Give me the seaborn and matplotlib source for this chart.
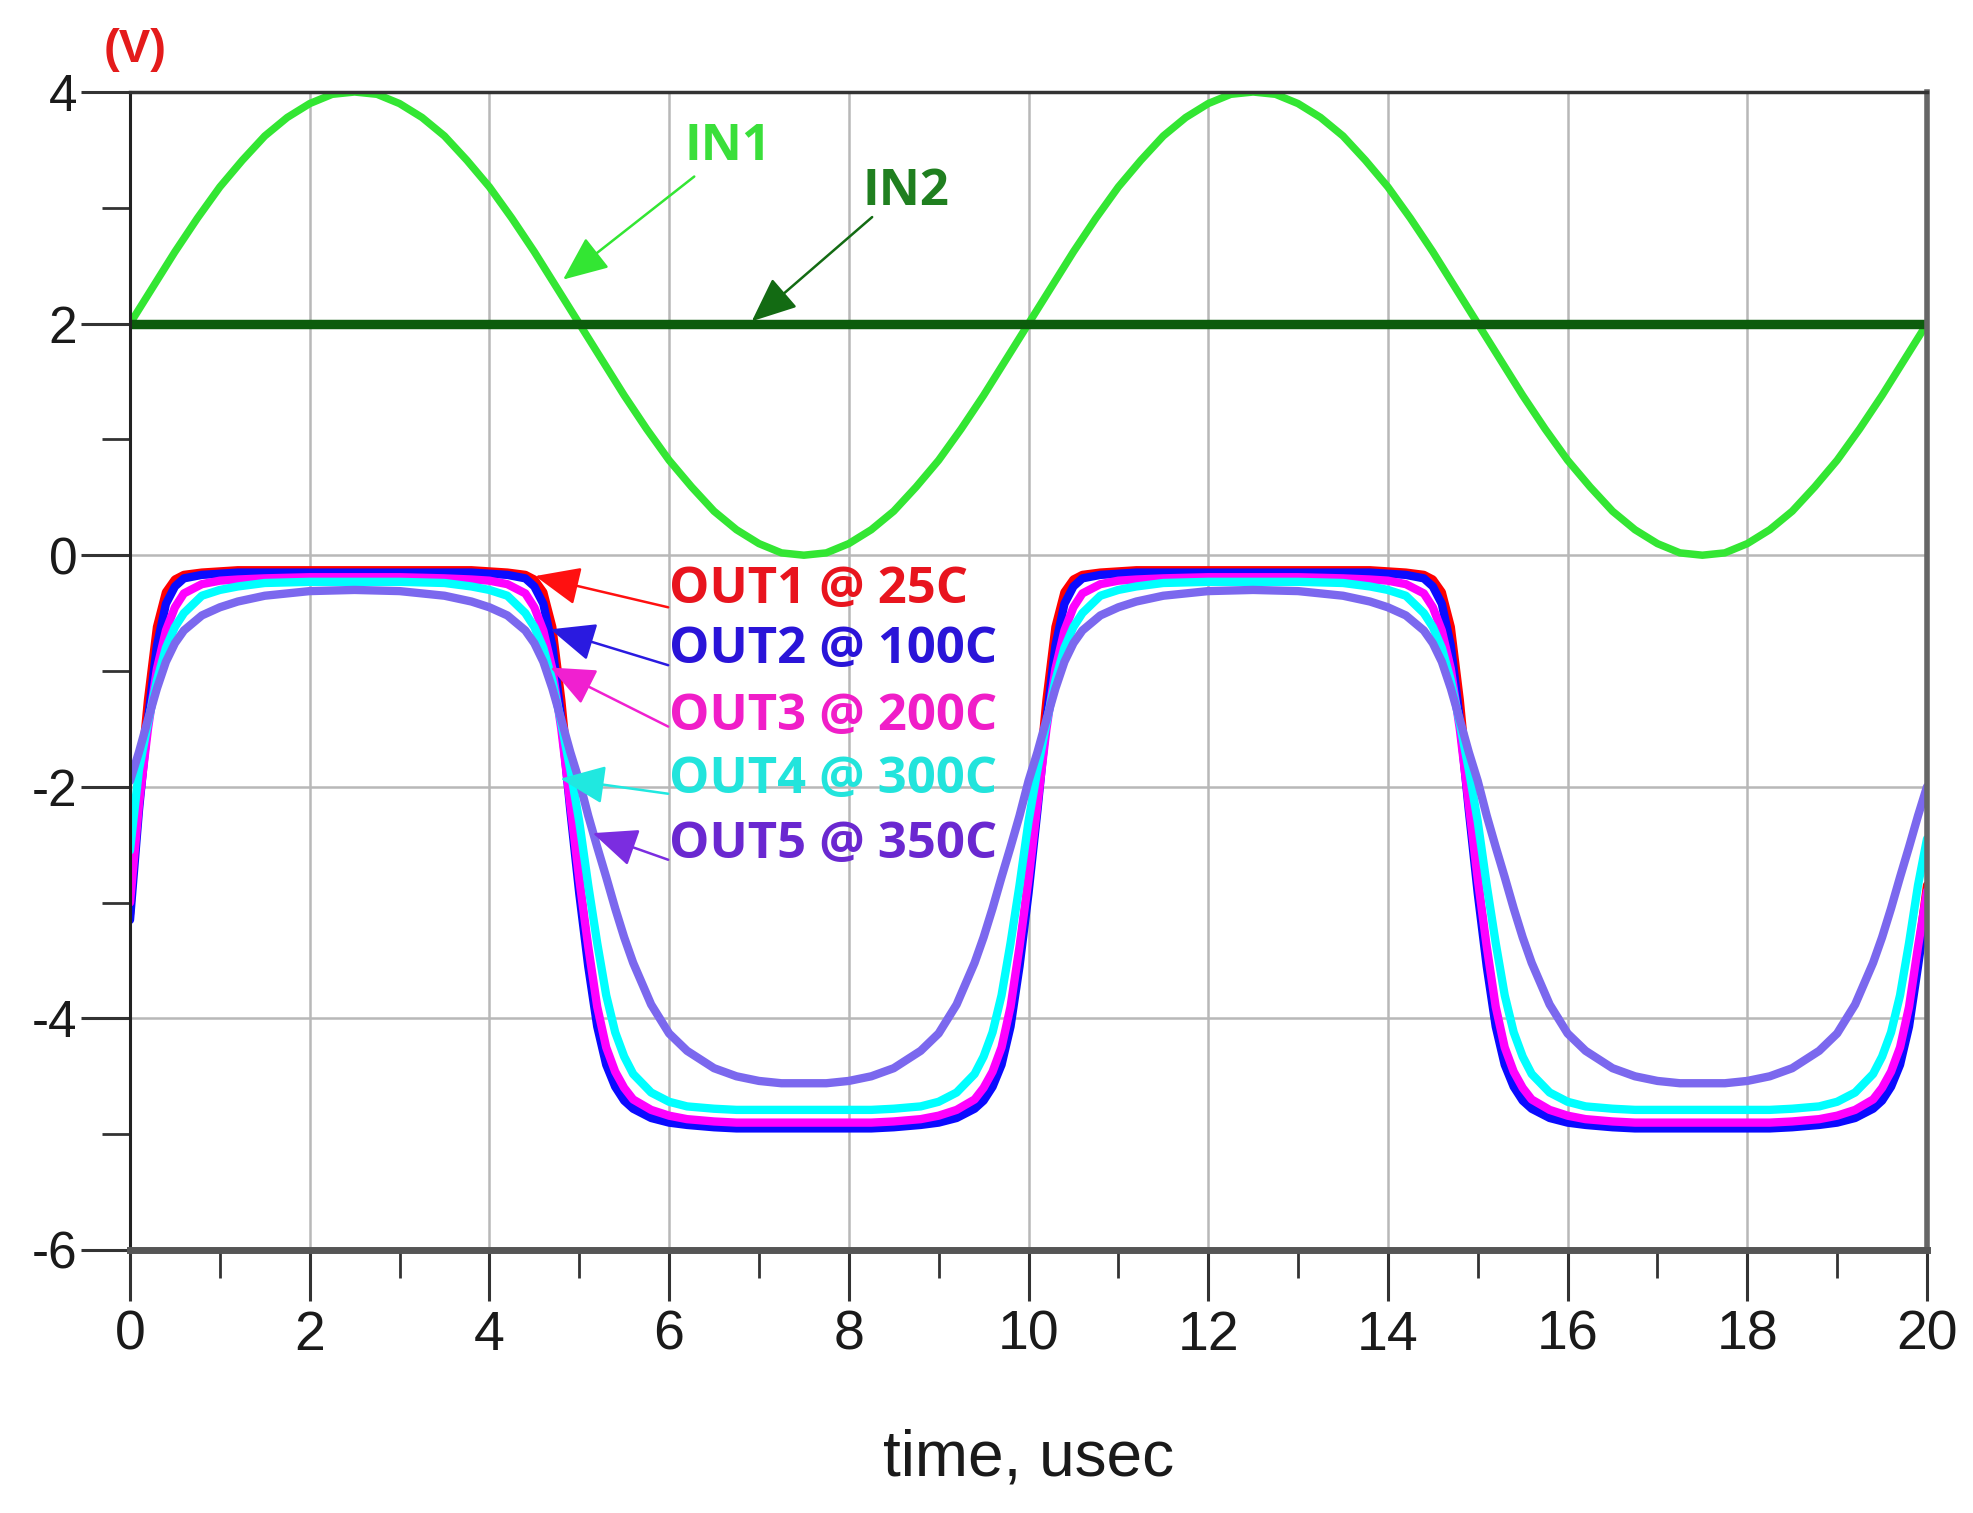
import matplotlib
matplotlib.use("Agg")
import numpy as np
import pandas as pd
import seaborn as sns
import matplotlib.pyplot as plt
from matplotlib.ticker import MultipleLocator

# ---------------- data ----------------
t_in = np.linspace(0, 20, 81)
in1 = [2.00, 2.31, 2.62, 2.91, 3.18, 3.41, 3.62, 3.78, 3.90, 3.98, 4.00, 3.98, 3.90, 3.78, 3.62, 3.41,
       3.18, 2.91, 2.62, 2.31, 2.00, 1.69, 1.38, 1.09, 0.82, 0.59, 0.38, 0.22, 0.10, 0.02, 0.00, 0.02,
       0.10, 0.22, 0.38, 0.59, 0.82, 1.09, 1.38, 1.69,
       2.00, 2.31, 2.62, 2.91, 3.18, 3.41, 3.62, 3.78, 3.90, 3.98, 4.00, 3.98, 3.90, 3.78, 3.62, 3.41,
       3.18, 2.91, 2.62, 2.31, 2.00, 1.69, 1.38, 1.09, 0.82, 0.59, 0.38, 0.22, 0.10, 0.02, 0.00, 0.02,
       0.10, 0.22, 0.38, 0.59, 0.82, 1.09, 1.38, 1.69, 2.00]
t_in2 = [0.0, 20.0]
in2 = [2.0, 2.0]

t_out = [0.0, 0.1, 0.2, 0.3, 0.4, 0.5, 0.6, 0.8, 1.0, 1.2, 1.5, 2.0, 2.5, 3.0, 3.5, 3.8, 4.0, 4.2,
         4.4, 4.5, 4.6, 4.7, 4.8, 4.9, 5.0, 5.1, 5.2, 5.3, 5.4, 5.5, 5.6, 5.8, 6.0, 6.2, 6.5, 6.75,
         7.0, 7.25, 7.5, 7.75, 8.0, 8.25, 8.5, 8.8, 9.0, 9.2, 9.4, 9.5, 9.6, 9.7, 9.8, 9.9,
         10.0, 10.1, 10.2, 10.3, 10.4, 10.5, 10.6, 10.8, 11.0, 11.2, 11.5, 12.0, 12.5, 13.0, 13.5, 13.8,
         14.0, 14.2, 14.4, 14.5, 14.6, 14.7, 14.8, 14.9, 15.0, 15.1, 15.2, 15.3, 15.4, 15.5, 15.6, 15.8,
         16.0, 16.2, 16.5, 16.75, 17.0, 17.25, 17.5, 17.75, 18.0, 18.25, 18.5, 18.8, 19.0, 19.2, 19.4,
         19.5, 19.6, 19.7, 19.8, 19.9, 20.0]

out1 = [-3.10, -2.05, -1.25, -0.62, -0.32, -0.21, -0.17, -0.15, -0.14, -0.13, -0.13, -0.13, -0.13, -0.13,
        -0.13, -0.13, -0.14, -0.15, -0.17, -0.21, -0.32, -0.62, -1.25, -2.05, -2.80, -3.45, -4.00, -4.35,
        -4.55, -4.68, -4.75, -4.83, -4.88, -4.90, -4.92, -4.93, -4.93, -4.93, -4.93, -4.93, -4.93, -4.93,
        -4.92, -4.90, -4.88, -4.83, -4.75, -4.68, -4.55, -4.35, -4.00, -3.45,
        -2.80, -2.05, -1.25, -0.62, -0.32, -0.21, -0.17, -0.15, -0.14, -0.13, -0.13, -0.13, -0.13, -0.13,
        -0.13, -0.13, -0.14, -0.15, -0.17, -0.21, -0.32, -0.62, -1.25, -2.05, -2.80, -3.45, -4.00, -4.35,
        -4.55, -4.68, -4.75, -4.83, -4.88, -4.90, -4.92, -4.93, -4.93, -4.93, -4.93, -4.93, -4.93, -4.93,
        -4.92, -4.90, -4.88, -4.83, -4.75, -4.68, -4.55, -4.35, -4.00, -3.45, -2.85]
out2 = [-3.15, -2.20, -1.42, -0.78, -0.42, -0.27, -0.20, -0.17, -0.16, -0.15, -0.15, -0.15, -0.15, -0.15,
        -0.15, -0.15, -0.16, -0.17, -0.20, -0.27, -0.42, -0.78, -1.42, -2.20, -2.92, -3.55, -4.07, -4.40,
        -4.59, -4.71, -4.78, -4.86, -4.90, -4.92, -4.94, -4.95, -4.95, -4.95, -4.95, -4.95, -4.95, -4.95,
        -4.94, -4.92, -4.90, -4.86, -4.78, -4.71, -4.59, -4.40, -4.07, -3.55,
        -2.92, -2.20, -1.42, -0.78, -0.42, -0.27, -0.20, -0.17, -0.16, -0.15, -0.15, -0.15, -0.15, -0.15,
        -0.15, -0.15, -0.16, -0.17, -0.20, -0.27, -0.42, -0.78, -1.42, -2.20, -2.92, -3.55, -4.07, -4.40,
        -4.59, -4.71, -4.78, -4.86, -4.90, -4.92, -4.94, -4.95, -4.95, -4.95, -4.95, -4.95, -4.95, -4.95,
        -4.94, -4.92, -4.90, -4.86, -4.78, -4.71, -4.59, -4.40, -4.07, -3.55, -3.00]
out3 = [-3.00, -2.15, -1.50, -0.98, -0.65, -0.45, -0.33, -0.25, -0.22, -0.21, -0.20, -0.19, -0.19, -0.19,
        -0.20, -0.21, -0.22, -0.25, -0.33, -0.45, -0.65, -0.98, -1.50, -2.15, -2.80, -3.38, -3.90, -4.25,
        -4.46, -4.60, -4.70, -4.79, -4.84, -4.87, -4.89, -4.90, -4.90, -4.90, -4.90, -4.90, -4.90, -4.90,
        -4.89, -4.87, -4.84, -4.79, -4.70, -4.60, -4.46, -4.25, -3.90, -3.38,
        -2.80, -2.15, -1.50, -0.98, -0.65, -0.45, -0.33, -0.25, -0.22, -0.21, -0.20, -0.19, -0.19, -0.19,
        -0.20, -0.21, -0.22, -0.25, -0.33, -0.45, -0.65, -0.98, -1.50, -2.15, -2.80, -3.38, -3.90, -4.25,
        -4.46, -4.60, -4.70, -4.79, -4.84, -4.87, -4.89, -4.90, -4.90, -4.90, -4.90, -4.90, -4.90, -4.90,
        -4.89, -4.87, -4.84, -4.79, -4.70, -4.60, -4.46, -4.25, -3.90, -3.38, -2.90]
out4 = [-2.55, -1.85, -1.45, -1.08, -0.80, -0.62, -0.50, -0.35, -0.30, -0.27, -0.24, -0.23, -0.23, -0.23,
        -0.24, -0.27, -0.30, -0.35, -0.50, -0.62, -0.80, -1.08, -1.45, -1.85, -2.30, -2.85, -3.35, -3.80,
        -4.12, -4.33, -4.48, -4.64, -4.72, -4.76, -4.78, -4.79, -4.79, -4.79, -4.79, -4.79, -4.79, -4.79,
        -4.78, -4.76, -4.72, -4.64, -4.48, -4.33, -4.12, -3.80, -3.35, -2.85,
        -2.30, -1.85, -1.45, -1.08, -0.80, -0.62, -0.50, -0.35, -0.30, -0.27, -0.24, -0.23, -0.23, -0.23,
        -0.24, -0.27, -0.30, -0.35, -0.50, -0.62, -0.80, -1.08, -1.45, -1.85, -2.30, -2.85, -3.35, -3.80,
        -4.12, -4.33, -4.48, -4.64, -4.72, -4.76, -4.78, -4.79, -4.79, -4.79, -4.79, -4.79, -4.79, -4.79,
        -4.78, -4.76, -4.72, -4.64, -4.48, -4.33, -4.12, -3.80, -3.35, -2.85, -2.45]
out5 = [-1.95, -1.70, -1.42, -1.15, -0.92, -0.76, -0.65, -0.52, -0.45, -0.40, -0.35, -0.31, -0.30, -0.31,
        -0.35, -0.40, -0.45, -0.52, -0.65, -0.76, -0.92, -1.15, -1.42, -1.70, -1.95, -2.25, -2.52, -2.78,
        -3.05, -3.30, -3.52, -3.88, -4.13, -4.28, -4.43, -4.50, -4.54, -4.56, -4.56, -4.56, -4.54, -4.50,
        -4.43, -4.28, -4.13, -3.88, -3.52, -3.30, -3.05, -2.78, -2.52, -2.25,
        -1.95, -1.70, -1.42, -1.15, -0.92, -0.76, -0.65, -0.52, -0.45, -0.40, -0.35, -0.31, -0.30, -0.31,
        -0.35, -0.40, -0.45, -0.52, -0.65, -0.76, -0.92, -1.15, -1.42, -1.70, -1.95, -2.25, -2.52, -2.78,
        -3.05, -3.30, -3.52, -3.88, -4.13, -4.28, -4.43, -4.50, -4.54, -4.56, -4.56, -4.56, -4.54, -4.50,
        -4.43, -4.28, -4.13, -3.88, -3.52, -3.30, -3.05, -2.78, -2.52, -2.25, -2.00]

out_names = ["OUT1 @ 25C", "OUT2 @ 100C", "OUT3 @ 200C", "OUT4 @ 300C", "OUT5 @ 350C"]
out_values = [out1, out2, out3, out4, out5]
x_ticks = [0, 2, 4, 6, 8, 10, 12, 14, 16, 18, 20]
y_ticks = [-6, -4, -2, 0, 2, 4]

# ---------------- styling ----------------
line_colors = ["#ff0000", "#0a0aff", "#ff00ff", "#00ffff", "#7b68ee"]
text_colors = ["#e8141e", "#2a14d8", "#f01ec8", "#22e4dc", "#6a28d0"]
arrow_colors = ["#ff1010", "#2a1ae0", "#f020d0", "#20e8e0", "#7b2de0"]

sns.set_style("white")
plt.rcParams["font.family"] = ["Liberation Sans", "DejaVu Sans"]
plt.rcParams["axes.unicode_minus"] = False

fig = plt.figure(figsize=(19.74, 15.13), dpi=100)
ax = fig.add_axes([130 / 1974, 1 - 1250 / 1513, 1797 / 1974, 1158 / 1513])

df_in1 = pd.DataFrame({"t": t_in, "v": in1})
df_in2 = pd.DataFrame({"t": t_in2, "v": in2})
sns.lineplot(data=df_in1, x="t", y="v", ax=ax, color="#33e633", linewidth=5.4,
             sort=False, estimator=None, legend=False)
sns.lineplot(data=df_in2, x="t", y="v", ax=ax, color="#0c5c0c", linewidth=6.8,
             sort=False, estimator=None, legend=False)

df_out = pd.concat([pd.DataFrame({"t": t_out, "v": v, "series": n})
                    for n, v in zip(out_names, out_values)], ignore_index=True)
for n, c in zip(out_names, line_colors):
    sns.lineplot(data=df_out[df_out["series"] == n], x="t", y="v", ax=ax, color=c,
                 linewidth=6.0, sort=False, estimator=None, legend=False)

ax.set_xlim(0, 20)
ax.set_ylim(-6, 4)
ax.set_xticks(x_ticks)
ax.set_yticks(y_ticks)
ax.xaxis.set_minor_locator(MultipleLocator(1))
ax.yaxis.set_minor_locator(MultipleLocator(1))
ax.grid(True, which="major", color="#b8b8b8", linewidth=1.8)
ax.set_axisbelow(True)

ax.tick_params(bottom=True, left=True, top=False, right=False, which="both")
ax.tick_params(axis="x", which="major", direction="out", length=37, width=2.2,
               color="#333333", labelsize=40, pad=6, labelcolor="#1a1a1a")
ax.tick_params(axis="y", which="major", direction="out", length=35, width=2.2,
               color="#333333", labelsize=37, pad=3, labelcolor="#1a1a1a")
ax.tick_params(which="minor", direction="out", length=20, width=2.0, color="#333333")

ax.spines["left"].set_color("#222222")
ax.spines["left"].set_linewidth(2.2)
ax.spines["top"].set_color("#333333")
ax.spines["top"].set_linewidth(2.5)
ax.spines["right"].set_color("#666666")
ax.spines["right"].set_linewidth(4)
ax.spines["bottom"].set_color("#555555")
ax.spines["bottom"].set_linewidth(5)

ax.set_xlabel("time, usec", fontsize=46, color="#1a1a1a")
ax.xaxis.label.set_va("center")
ax.xaxis.set_label_coords(0.5, -(1458 - 1250) / 1158)
ax.set_ylabel("")

fig.text(104 / 1974, 1 - 50 / 1513, "(V)", color="#e41b1b", fontsize=34,
         fontweight="bold", va="center", ha="left")

# ---------------- annotations ----------------
lab_font = dict(family=["Open Sans", "DejaVu Sans"], fontweight="bold", fontsize=36.5)
ap = lambda c: dict(arrowstyle="-|>,head_length=0.7,head_width=0.3", color=c, lw=1.8,
                    mutation_scale=40, shrinkA=0, shrinkB=0)

ax.text(6.17, 3.41, "IN1", color="#3adf3a", ha="left", va="baseline", **lab_font)
ax.annotate("", xy=(4.82, 2.38), xytext=(6.28, 3.27), arrowprops=ap("#33e633"))
ax.text(8.15, 3.02, "IN2", color="#1f7f1f", ha="left", va="baseline", **lab_font)
ax.annotate("", xy=(6.92, 2.02), xytext=(8.26, 2.92), arrowprops=ap("#136b13"))

lab_base = [-0.415, -0.933, -1.511, -2.055, -2.617]
tails = [(5.99, -0.45), (5.99, -0.95), (5.99, -1.48), (5.99, -2.06), (5.99, -2.63)]
tips = [(4.51, -0.18), (4.68, -0.64), (4.68, -0.97), (4.79, -1.93), (5.15, -2.40)]
for n, tc, ac, yb, tl, tp in zip(out_names, text_colors, arrow_colors, lab_base, tails, tips):
    ax.text(6.0, yb, n, color=tc, ha="left", va="baseline", **lab_font)
    ax.annotate("", xy=tp, xytext=tl, arrowprops=ap(ac))

fig.savefig("out.png", dpi=100)
